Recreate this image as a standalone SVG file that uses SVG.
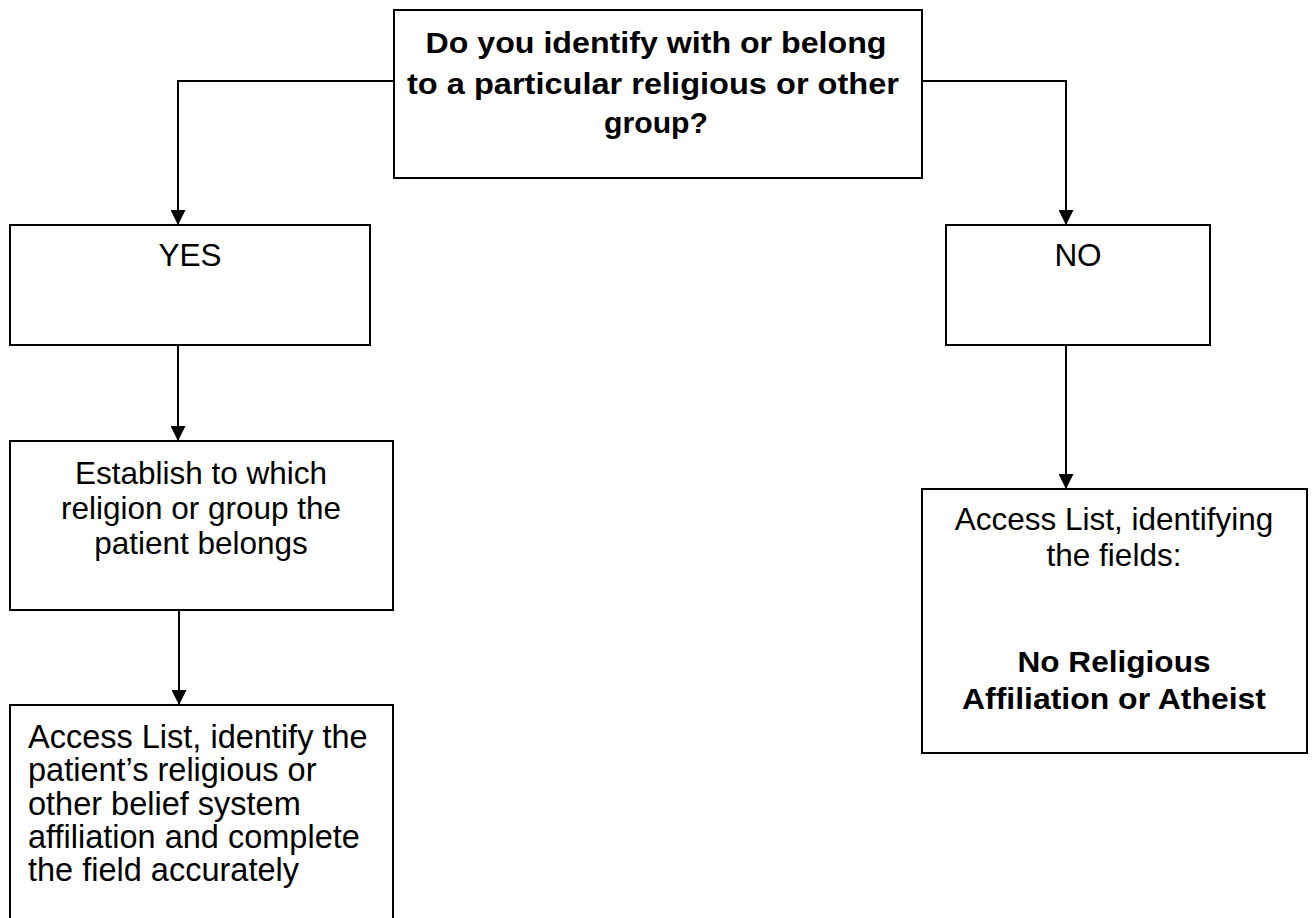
<svg xmlns="http://www.w3.org/2000/svg" width="1313" height="918" viewBox="0 0 1313 918">
<style>
.box{fill:#fff;stroke:#000;stroke-width:2}
.t{font-family:"Liberation Sans",Arial,sans-serif;font-size:31.5px;fill:#000}
.b{font-family:"Liberation Sans",Arial,sans-serif;font-size:29px;font-weight:bold;fill:#000}
.c{text-anchor:middle}
.conn{fill:none;stroke:#000;stroke-width:2}
</style>
<defs>
<marker id="arr" viewBox="0 0 10 10" refX="10" refY="5" markerUnits="userSpaceOnUse" markerWidth="15" markerHeight="15" orient="auto">
<path d="M0,0 L10,5 L0,10 z" fill="#000"/>
</marker>
</defs>
<rect width="1313" height="918" fill="#fff"/>
<g id="connectors">
<polyline class="conn" points="394,81 178,81 178,225" marker-end="url(#arr)"/>
<polyline class="conn" points="922,81 1066,81 1066,225" marker-end="url(#arr)"/>
<line class="conn" x1="178" y1="345" x2="178" y2="441" marker-end="url(#arr)"/>
<line class="conn" x1="179" y1="610" x2="179" y2="705" marker-end="url(#arr)"/>
<line class="conn" x1="1066" y1="346" x2="1066" y2="489" marker-end="url(#arr)"/>
</g>
<g id="question">
<rect class="box" x="394" y="10" width="528" height="168"/>
<text class="b c" x="656" y="53" textLength="461" lengthAdjust="spacingAndGlyphs">Do you identify with or belong</text>
<text class="b c" x="653" y="94" textLength="492" lengthAdjust="spacingAndGlyphs">to a particular religious or other</text>
<text class="b c" x="656" y="133" textLength="104" lengthAdjust="spacingAndGlyphs">group?</text>
</g>
<g id="yes">
<rect class="box" x="10" y="225" width="360" height="120"/>
<text class="t c" x="190" y="266">YES</text>
</g>
<g id="no">
<rect class="box" x="946" y="225" width="264" height="120"/>
<text class="t c" x="1078" y="266">NO</text>
</g>
<g id="establish">
<rect class="box" x="10" y="441" width="383" height="169"/>
<text class="t c" x="201" y="484">Establish to which</text>
<text class="t c" x="201" y="519">religion or group the</text>
<text class="t c" x="201" y="554">patient belongs</text>
</g>
<g id="access-yes">
<rect class="box" x="10" y="705" width="383" height="220"/>
<text class="t" x="28" y="748" style="font-size:32.5px">Access List, identify the</text>
<text class="t" x="28" y="781" style="font-size:32.5px">patient’s religious or</text>
<text class="t" x="28" y="815" style="font-size:32.5px">other belief system</text>
<text class="t" x="28" y="848" style="font-size:32.5px">affiliation and complete</text>
<text class="t" x="28" y="881" style="font-size:32.5px">the field accurately</text>
</g>
<g id="access-no">
<rect class="box" x="922" y="489" width="385" height="264"/>
<text class="t c" x="1114" y="530">Access List, identifying</text>
<text class="t c" x="1114" y="566">the fields:</text>
<text class="b c" x="1114" y="672" textLength="193" lengthAdjust="spacingAndGlyphs">No Religious</text>
<text class="b c" x="1114" y="709" textLength="304" lengthAdjust="spacingAndGlyphs">Affiliation or Atheist</text>
</g>
</svg>
